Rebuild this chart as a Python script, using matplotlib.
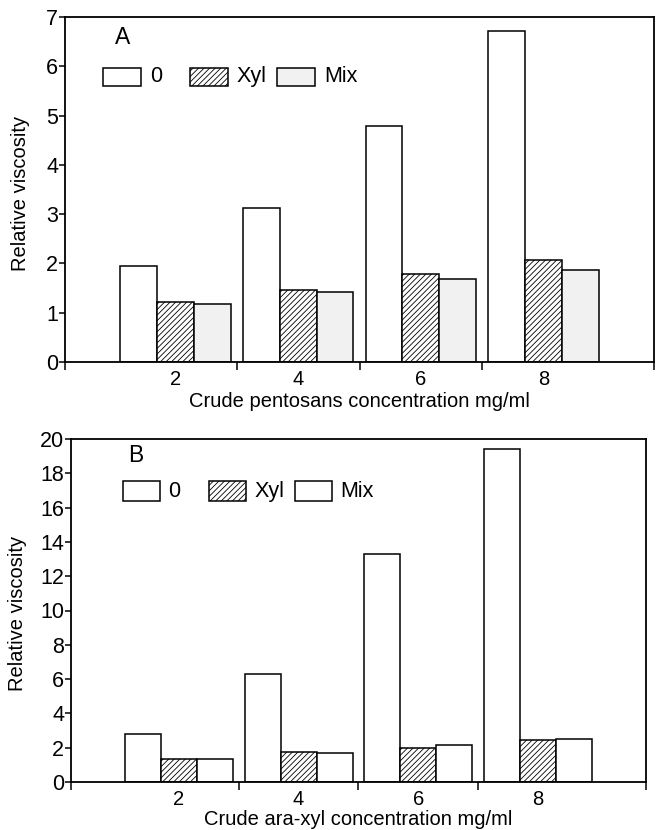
import matplotlib
matplotlib.use("Agg")
import matplotlib.pyplot as plt
from matplotlib.patches import Rectangle

plt.rcParams["font.family"] = ["Liberation Sans", "DejaVu Sans"]
plt.rcParams["hatch.linewidth"] = 0.6

# ---- data ----
concentrations = [2, 4, 6, 8]
series_names = ["0", "Xyl", "Mix"]

a_zero = [1.95, 3.12, 4.78, 6.72]
a_xyl = [1.22, 1.47, 1.78, 2.06]
a_mix = [1.18, 1.42, 1.68, 1.87]

b_zero = [2.79, 6.31, 13.27, 19.42]
b_xyl = [1.32, 1.77, 2.00, 2.43]
b_mix = [1.32, 1.67, 2.18, 2.52]

a_yticks = [0, 1, 2, 3, 4, 5, 6, 7]
b_yticks = [0, 2, 4, 6, 8, 10, 12, 14, 16, 18, 20]

fig = plt.figure(figsize=(6.56, 8.30), dpi=100)
axA = fig.add_axes([65 / 656, 1 - 362 / 830, 589 / 656, 345 / 830])
axB = fig.add_axes([71 / 656, 1 - 782 / 830, 575 / 656, 343 / 830])

FS = 14.5
YTFS = 15.5
XTFS = 14.5


def draw(ax, zero, xyl, mix, yticks, ylim, xlabel, letter, letter_xy, mix_color,
         leg_x0, leg_stride, leg_w, leg_y0, leg_h, ylab_x, xlab_y):
    w = 0.6
    styles = [
        dict(facecolor="white", hatch=None),
        dict(facecolor="white", hatch="//////"),
        dict(facecolor=mix_color, hatch=None),
    ]
    for k, vals in enumerate([zero, xyl, mix]):
        xs = [c + (k - 1) * w for c in concentrations]
        ax.bar(xs, vals, width=w, edgecolor="black", linewidth=1.1,
               facecolor=styles[k]["facecolor"], hatch=styles[k]["hatch"],
               zorder=2)
    ax.set_xlim(0.2, 9.8)
    ax.set_ylim(*ylim)
    ax.set_yticks(yticks)
    ax.set_yticklabels([str(t) for t in yticks], fontsize=YTFS)
    ax.set_xticks(concentrations)
    ax.set_xticklabels([str(c) for c in concentrations], fontsize=XTFS)
    ax.set_xticks([0.2, 3, 5, 7, 9.8], minor=True)
    ax.tick_params(axis="x", which="major", length=0, pad=6)
    ax.tick_params(axis="x", which="minor", length=6, width=1.1, direction="out")
    ax.tick_params(axis="y", length=4, width=1.1, direction="out", pad=1)
    for s in ax.spines.values():
        s.set_linewidth(1.3)
    ax.set_xlabel(xlabel, fontsize=FS)
    ax.set_ylabel("Relative viscosity", fontsize=FS)
    ax.yaxis.set_label_coords(ylab_x, 0.49)
    ax.xaxis.set_label_coords(0.5, xlab_y)
    ax.text(letter_xy[0], letter_xy[1], letter, transform=ax.transAxes,
            fontsize=FS + 2, ha="left", va="center")
    # legend drawn as fixed-stride boxes like the original
    for k, name in enumerate(series_names):
        x0 = leg_x0 + k * leg_stride
        r = Rectangle((x0, leg_y0), leg_w, leg_h, transform=ax.transAxes,
                      facecolor=styles[k]["facecolor"], hatch=styles[k]["hatch"],
                      edgecolor="black", linewidth=1.1, zorder=3)
        ax.add_patch(r)
        ax.text(x0 + leg_w + 0.015, leg_y0 + leg_h / 2, name,
                transform=ax.transAxes, fontsize=YTFS, ha="left", va="center")


draw(axA, a_zero, a_xyl, a_mix, a_yticks, (0, 7),
     "Crude pentosans concentration mg/ml", "A", (0.085, 0.942), "#f1f1f1",
     0.0645, 0.1477, 0.0645, 0.7986, 0.055, -0.06, -0.088)
draw(axB, b_zero, b_xyl, b_mix, b_yticks, (0, 20),
     "Crude ara-xyl concentration mg/ml", "B", (0.1, 0.953), "white",
     0.0904, 0.1496, 0.0643, 0.819, 0.058, -0.076, -0.083)

fig.savefig("out.png", dpi=100)
